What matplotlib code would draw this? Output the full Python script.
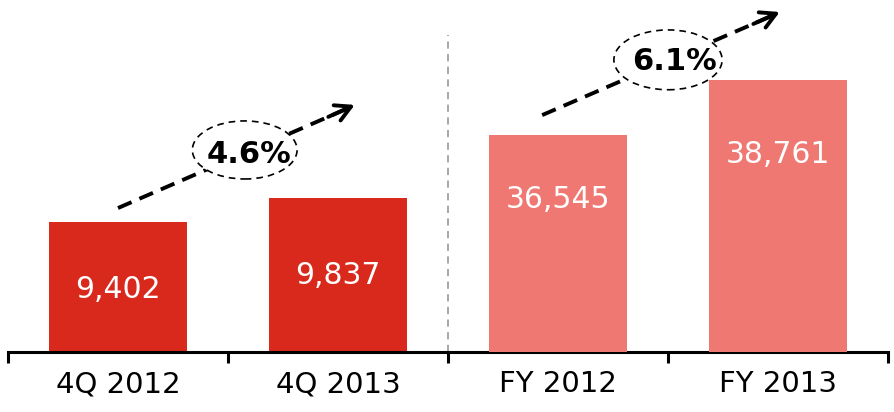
import matplotlib.pyplot as plt
from matplotlib.patches import Ellipse

categories = ['4Q 2012', '4Q 2013', 'FY 2012', 'FY 2013']
quarter_values = [9402, 9837]
year_values = [36545, 38761]
growth_labels = ['4.6%', '6.1%']

dark_red = '#D9291C'
light_red = '#EF7873'

fig = plt.figure(figsize=(8.95, 4.12), dpi=100)
ax = fig.add_axes([8 / 895, 60 / 412, 880 / 895, 352 / 412])
ax2 = ax.twinx()

# each pair of bars has its own scale
ax.set_ylim(7046, 13423)
ax2.set_ylim(27802, 41984)
ax.set_xlim(-0.5, 3.5)

bw = 0.625
b1 = ax.bar([0, 1], quarter_values, width=bw, color=dark_red, bottom=0)
b2 = ax2.bar([2, 3], year_values, width=bw, color=light_red, bottom=0)

for bars, vals, a, offs in [(b1, quarter_values, ax, [-68, -78]), (b2, year_values, ax2, [-65, -75])]:
    for rect, v, o in zip(bars, vals, offs):
        a.annotate(f'{v:,}', (rect.get_x() + rect.get_width() / 2, v),
                   xytext=(0, o), textcoords='offset pixels',
                   ha='center', va='center', color='white', fontsize=21.5)

for a in (ax, ax2):
    for s in ['top', 'left', 'right']:
        a.spines[s].set_visible(False)
    a.set_yticks([])
ax2.spines['bottom'].set_visible(False)
ax.spines['bottom'].set_linewidth(2.2)

ax.set_xticks([-0.5, 0.5, 1.5, 2.5, 3.5])
ax.set_xticklabels([])
ax.tick_params(axis='x', which='major', length=8, width=2.2, direction='out')
ax.set_xticks(range(4), minor=True)
ax.set_xticklabels(categories, minor=True, fontsize=21)
ax.tick_params(axis='x', which='minor', length=0, pad=13)

ax.axvline(1.5, ymin=0, ymax=0.9, color='#A0A0A0', lw=1.3, ls=(0, (4, 3)))

# growth arrows with dashed ellipses
arrows = [((0.125, 0.409), (0.394, 0.702)), ((0.607, 0.673), (0.877, 0.966))]
ellipses = [((0.269, 0.574), 0.119, 0.165), ((0.75, 0.830), 0.123, 0.170)]
texts = [(0.274, 0.560), (0.757, 0.824)]
for (s, e), (c, w, h), t, lab in zip(arrows, ellipses, texts, growth_labels):
    ax2.plot([s[0], e[0] - 0.008], [s[1], e[1] - 0.01], transform=ax2.transAxes,
             color='black', lw=2.8, ls=(0, (3.8, 2.2)), clip_on=False)
    ax2.annotate('', xy=e, xytext=(e[0] - 0.03, e[1] - 0.034), xycoords='axes fraction',
                 arrowprops=dict(arrowstyle='->,head_length=1.1,head_width=0.6', lw=2.8,
                                 color='black', shrinkA=0, shrinkB=0))
    ax2.add_patch(Ellipse(c, w, h, transform=ax2.transAxes, facecolor='white',
                          edgecolor='black', lw=1.2, ls=(0, (4, 3)), zorder=5))
    ax2.text(t[0], t[1], lab, transform=ax2.transAxes, ha='center', va='center',
             fontsize=22, fontweight='bold', zorder=6)

fig.savefig('out.png', dpi=100)
